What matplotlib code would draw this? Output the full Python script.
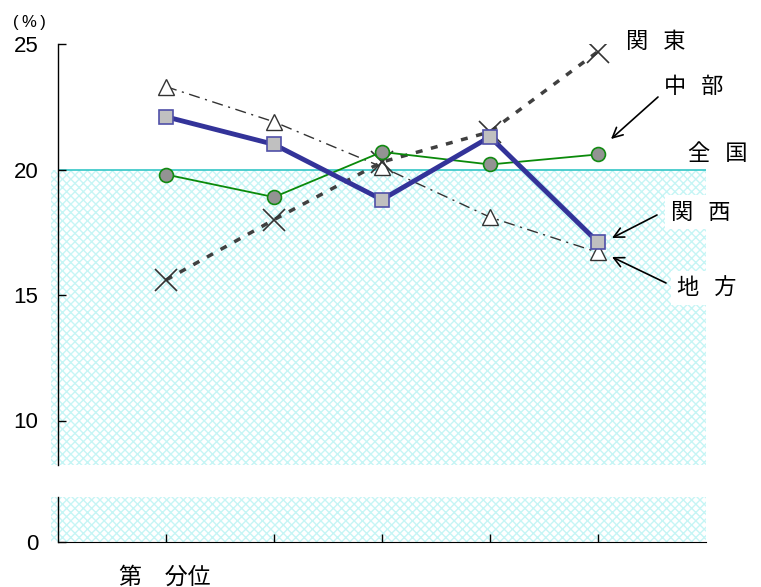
import numpy as np
import matplotlib.pyplot as plt

plt.rcParams['font.family'] = ['Liberation Sans', 'Noto Sans CJK JP', 'DejaVu Sans']
plt.rcParams['hatch.linewidth'] = 1.0

# 第Ⅰ分位 shares by region (%)
cats = [1, 2, 3, 4, 5]
kanto = [15.6, 18.0, 20.3, 21.5, 24.7]
chubu = [19.8, 18.9, 20.7, 20.2, 20.6]
kansai = [22.1, 21.0, 18.8, 21.3, 17.1]
chiho = [23.3, 21.9, 20.1, 18.1, 16.7]
zenkoku = 20.0

W, H = 761, 587
fig = plt.figure(figsize=(W / 100, H / 100), dpi=100)

def box(x0, y0, x1, y1):
    return [x0 / W, 1 - y1 / H, (x1 - x0) / W, (y1 - y0) / H]

ax = fig.add_axes(box(58, 44, 706, 465))
axb = fig.add_axes(box(58, 497, 706, 542))

ytop = (25, 25 - 421 / 25.1)
ax.set_ylim(ytop[1], ytop[0])
axb.set_ylim(0, 45 / 25.1)
for a in (ax, axb):
    a.set_xlim(0, 6)
    a.patch.set_alpha(0)
    for s in ('top', 'right'):
        a.spines[s].set_visible(False)
    a.spines['left'].set_linewidth(1.0)

ax.spines['bottom'].set_visible(False)
ax.set_xticks([])
axb.set_xticks(cats)
axb.set_xticklabels([])
axb.tick_params(axis='x', direction='in', length=6, width=1)

ax.set_yticks([10, 15, 20, 25])
axb.set_yticks([0])
for a in (ax, axb):
    a.tick_params(axis='y', direction='in', length=6, width=1, pad=14, labelsize=16)

# shaded band up to the national average
fill_kw = dict(facecolor='white', edgecolor='#c6f5f5', hatch='xxxx', linewidth=0, clip_on=False, zorder=0)
ax.fill_between([-0.065, 6], ytop[1], zenkoku, **fill_kw)
axb.fill_between([-0.065, 6], 0, 45 / 25.1, **fill_kw)
ax.plot([0, 6], [zenkoku, zenkoku], color='#33c6c6', lw=1.2, zorder=1)

ax.plot(cats, chiho, color='#333333', lw=1.0, dashes=(8, 4, 1.5, 4),
        marker='^', ms=11, mfc='white', mec='#333333', mew=1.0, zorder=3)
ax.plot(cats, kanto, color='#404040', lw=2.5, dashes=(2, 2.5),
        marker='x', ms=16, mec='#333333', mew=1.2, zorder=3)
ax.plot(cats, chubu, color='#0a8a0a', lw=1.3,
        marker='o', ms=10, mfc='#939393', mec='#128a12', mew=1.2, zorder=4)
ax.plot(cats, kansai, color='#333399', lw=3.5,
        marker='s', ms=10, mfc='#c0c0c0', mec='#5050a8', mew=1.2, zorder=5)

fig.text(13 / W, 1 - 23 / H, '(\u2009%\u2009)', fontsize=12, va='center', ha='left')
fig.text(119 / W, 1 - 577 / H, '第\u3000分位', fontsize=16.5, ha='left', va='center',
         family=['Noto Sans CJK JP', 'DejaVu Sans'])

lab = dict(fontsize=16, va='center', ha='left', family=['Noto Sans CJK JP', 'DejaVu Sans'])
white = dict(facecolor='white', edgecolor='none', pad=4)
fig.text(626 / W, 1 - 41 / H, '関   東', **lab)
fig.text(664 / W, 1 - 86 / H, '中   部', **lab)
fig.text(688 / W, 1 - 153 / H, '全   国', **lab)
fig.text(671 / W, 1 - 212 / H, '関   西', bbox=white, **lab)
fig.text(677 / W, 1 - 288 / H, '地   方', bbox=white, **lab)

arrow = dict(arrowstyle='->', color='black', lw=1.2, mutation_scale=18, shrinkA=0, shrinkB=0)
def point(x, y):
    return ax.transData.inverted().transform(fig.transFigure.transform((x / W, 1 - y / H)))
ax.annotate('', xy=point(611, 139), xytext=point(658, 97), arrowprops=arrow)
ax.annotate('', xy=point(612, 238), xytext=point(657, 215), arrowprops=arrow)
ax.annotate('', xy=point(612, 257), xytext=point(666, 283), arrowprops=arrow)

fig.savefig('out.png', dpi=100)
